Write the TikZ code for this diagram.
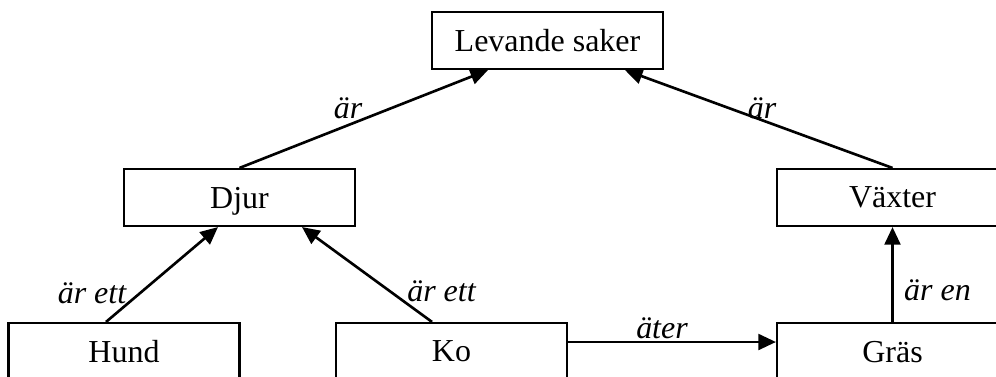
\documentclass[tikz,border=0pt]{standalone}
\usepackage{fontspec}
\setmainfont{Liberation Serif}
\usetikzlibrary{positioning,arrows.meta}
\tikzset {
    style box/.style={
        draw=black,
        line width=1.2pt,
        rectangle, % Set the shape as a rectangle
        minimum width=4.62cm,
        minimum height=1.14cm,
        inner sep=0pt,
        text depth=0pt,
        align=center,
    },
    style lbl/.style={
        font=\fontsize{18.2}{22}\selectfont\itshape,
        inner sep=0pt,
    },
}

\begin{document}
\begin{tikzpicture}
        [font=\fontsize{18.2}{22}\selectfont, >={Triangle[length=10pt,width=9pt]}]

        \useasboundingbox (0,0) rectangle (19.92,7.52);

        \node[style box]  at (10.95,6.71) (levandeSaker) {Levande saker};
        \node[style box]  at (4.79,3.57) (djur) {Djur};
        \node[style box]  at (17.85,3.57) (vaxter) {Växter};
        \node[style box]  at (2.48,0.49) (hund) {Hund};
        \node[style box]  at (9.03,0.49) (ko) {Ko};
        \node[style box]  at (17.85,0.49) (gras) {Gräs};

        \node[style lbl]  at (6.96,5.36) (arDjur) {är};
        \node[style lbl]  at (15.24,5.36) (arVaxter) {är};
        \node[style lbl]  at (1.84,1.66) (arEttHund) {är ett};
        \node[style lbl]  at (8.83,1.69) (arEttKo) {är ett};
        \node[style lbl]  at (13.24,0.96) (ater) {äter};
        \node[style lbl]  at (18.75,1.72) (arEn) {är en};

        \draw[line width=1.5pt, ->] (djur.north)  -- ([xshift=-1.19cm]levandeSaker.south);
        \draw[line width=1.5pt, ->] (vaxter.north)  -- ([xshift=1.55cm]levandeSaker.south);

        \draw[line width=1.5pt, ->] ([xshift=-0.36cm]hund.north)  -- ([xshift=-0.43cm]djur.south);
        \draw[line width=1.5pt, ->] ([xshift=-0.39cm]ko.north)  -- ([xshift=1.25cm]djur.south);
        \draw[line width=1.5pt, ->] ([yshift=0.19cm]ko.east)  -- ([yshift=0.19cm]gras.west);
        \draw[line width=1.5pt, ->] (gras.north)  -- (vaxter.south);
    \end{tikzpicture}
\end{document}
